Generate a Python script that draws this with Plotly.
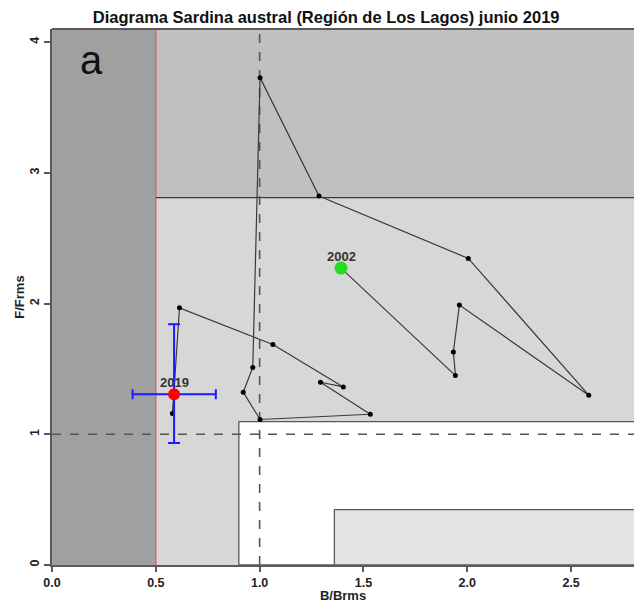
import plotly.graph_objects as go

# Stock trajectory (B/Brms, F/Frms), 2002-2019
years = list(range(2002, 2020))
b_ratio = [1.392, 1.943, 1.933, 1.962, 2.585, 2.005, 1.286, 1.002, 0.967,
           0.921, 1.002, 1.533, 1.293, 1.403, 1.064, 0.614, 0.580, 0.588]
f_ratio = [2.271, 1.449, 1.630, 1.988, 1.299, 2.345, 2.822, 3.728, 1.511,
           1.322, 1.113, 1.153, 1.398, 1.362, 1.687, 1.967, 1.158, 1.306]

# Uncertainty for the last year
b_last_low, b_last_high = 0.388, 0.789
f_last_low, f_last_high = 0.933, 1.842

# Reference points and zone limits
b_lim = 0.5
b_ref = 1.0
f_ref = 1.0
f_over = 2.81
b_safe = 0.9
f_safe = 1.097
b_full = 1.36
f_full = 0.423

x_max = 2.803
y_max = 4.10

x_ticks = [0.0, 0.5, 1.0, 1.5, 2.0, 2.5]
x_tick_text = ["0.0", "0.5", "1.0", "1.5", "2.0", "2.5"]
y_ticks = [0, 1, 2, 3, 4]
y_tick_text = ["0", "1", "2", "3", "4"]

font_family = "Liberation Sans, Arial, sans-serif"
edge = "#5a5a5a"

fig = go.Figure()

shapes = [
    # collapse zone
    dict(type="rect", x0=0, x1=b_lim, y0=0, y1=y_max,
         fillcolor="#a0a0a0", line=dict(width=0), layer="below"),
    # overfishing zone
    dict(type="rect", x0=b_lim, x1=x_max, y0=f_over, y1=y_max,
         fillcolor="#c0c0c0", line=dict(width=0), layer="below"),
    # overexploitation zone
    dict(type="rect", x0=b_lim, x1=x_max, y0=0, y1=f_over,
         fillcolor="#d7d7d7", line=dict(width=0), layer="below"),
    # full exploitation
    dict(type="rect", x0=b_safe, x1=x_max + 0.1, y0=0, y1=f_safe,
         fillcolor="#ffffff", line=dict(color=edge, width=1.3), layer="below"),
    # sub-exploitation
    dict(type="rect", x0=b_full, x1=x_max + 0.1, y0=0, y1=f_full,
         fillcolor="#e4e4e4", line=dict(color=edge, width=1.3), layer="below"),
    # boundary of overfishing zone
    dict(type="line", x0=b_lim, x1=x_max, y0=f_over, y1=f_over,
         line=dict(color="#3a3a3a", width=1.2), layer="below"),
    # limit biomass
    dict(type="line", x0=b_lim, x1=b_lim, y0=0, y1=y_max,
         line=dict(color="#e05050", width=1.2), layer="below"),
    # target references
    dict(type="line", x0=b_ref, x1=b_ref, y0=0, y1=y_max,
         line=dict(color="#555555", width=1.6, dash="dash"), layer="below"),
    dict(type="line", x0=0, x1=x_max, y0=f_ref, y1=f_ref,
         line=dict(color="#555555", width=1.6, dash="dash"), layer="below"),
    # top frame
    dict(type="line", xref="paper", yref="paper", x0=0, x1=1, y0=1, y1=1,
         line=dict(color=edge, width=2)),
]

# trajectory
fig.add_trace(go.Scatter(
    x=b_ratio, y=f_ratio, mode="lines+markers",
    line=dict(color="#3a3a3a", width=1.2),
    marker=dict(color="#000000", size=5),
    hoverinfo="skip", showlegend=False,
))

# last year with uncertainty
fig.add_trace(go.Scatter(
    x=[b_ratio[-1]], y=[f_ratio[-1]], mode="markers",
    marker=dict(color="#ff0000", size=12),
    error_x=dict(type="data", symmetric=False,
                 array=[b_last_high - b_ratio[-1]],
                 arrayminus=[b_ratio[-1] - b_last_low],
                 color="#1a1aff", thickness=2, width=5),
    error_y=dict(type="data", symmetric=False,
                 array=[f_last_high - f_ratio[-1]],
                 arrayminus=[f_ratio[-1] - f_last_low],
                 color="#1a1aff", thickness=2, width=6),
    showlegend=False,
))

# first year
fig.add_trace(go.Scatter(
    x=[b_ratio[0]], y=[f_ratio[0]], mode="markers",
    marker=dict(color="#22dd22", size=13),
    showlegend=False,
))

# year labels
for i in (0, -1):
    fig.add_annotation(x=b_ratio[i], y=f_ratio[i], text=f"<b>{years[i]}</b>",
                       showarrow=False, yshift=12,
                       font=dict(family=font_family, size=13, color="#333333"))

fig.add_annotation(xref="paper", yref="paper", x=(91.7 - 51.7) / 582.3,
                   y=1 - (60 - 29) / 535.6, xanchor="center", yanchor="middle",
                   text="a", showarrow=False,
                   font=dict(family=font_family, size=40, color="#111111"))

fig.update_layout(
    width=634, height=603,
    margin=dict(l=51.7, r=0, t=29, b=38.4, pad=0),
    paper_bgcolor="#ffffff", plot_bgcolor="#ffffff",
    shapes=shapes,
    title=dict(text="<b>Diagrama Sardina austral (Región de Los Lagos) junio 2019</b>",
               x=(326 - 51.7) / 582.3, xref="paper", xanchor="center",
               y=1 - 17 / 603, yanchor="middle",
               font=dict(family=font_family, size=16.5, color="#111111")),
    xaxis=dict(range=[0, x_max], tickvals=x_ticks, ticktext=x_tick_text,
               ticks="outside", ticklen=5, tickcolor=edge, tickwidth=1.5,
               showgrid=False, zeroline=False,
               showline=True, linecolor=edge, linewidth=2,
               tickfont=dict(family=font_family, size=12.5, color="#222222", weight="bold"),
               title=dict(text="<b>B/Brms</b>", standoff=1,
                          font=dict(family=font_family, size=13, color="#222222"))),
    yaxis=dict(range=[0, y_max], tickvals=y_ticks, ticktext=y_tick_text,
               ticks="outside", ticklen=6, tickcolor=edge, tickwidth=1.5,
               tickangle=-90,
               showgrid=False, zeroline=False,
               showline=True, linecolor=edge, linewidth=2,
               tickfont=dict(family=font_family, size=12.5, color="#222222", weight="bold"),
               title=dict(text="<b>F/Frms</b>", standoff=0,
                          font=dict(family=font_family, size=13, color="#222222"))),
)

fig.write_html("out.html")
